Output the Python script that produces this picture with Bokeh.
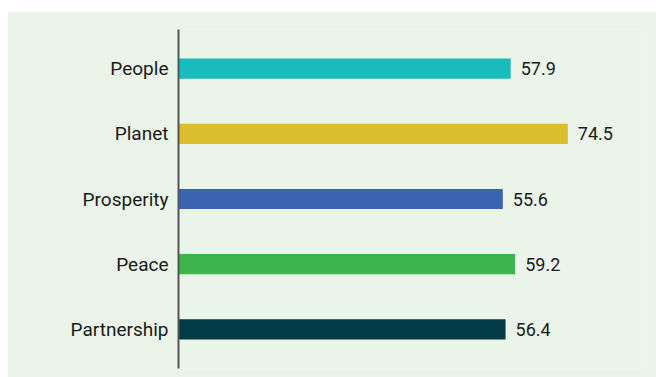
from bokeh.plotting import figure
from bokeh.models import FactorRange, Range1d, ColumnDataSource
from bokeh.core.properties import value
from bokeh.embed import file_html
from bokeh.resources import INLINE

categories = ["People", "Planet", "Prosperity", "Peace", "Partnership"]
scores = [57.9, 74.5, 55.6, 59.2, 56.4]
colors = ["#19bcbb", "#dbbd2d", "#3a64af", "#3db54c", "#023a46"]
labels = [f"{v:.1f}" for v in scores]

X_START = -38.6
X_END = 95.6

src = ColumnDataSource(dict(cat=categories, val=scores, col=colors, lab=labels,
                            left=[X_START] * len(scores)))

BG = "#eaf4e8"
p = figure(width=649, height=366, margin=(11, 0, 0, 7),
           y_range=FactorRange(factors=categories[::-1], range_padding=0.1,
                               range_padding_units="absolute"),
           x_range=Range1d(X_START, X_END),
           output_backend="svg", toolbar_location=None,
           min_border_left=171, min_border_right=16,
           min_border_top=18, min_border_bottom=9)
p.background_fill_color = BG
p.border_fill_color = BG
p.outline_line_color = None
p.xgrid.visible = False
p.ygrid.visible = False
p.xaxis.visible = False

p.hbar(y="cat", left="left", right="val", height=0.31, color="col",
       line_color=None, source=src)
p.text(x="val", y="cat", text="lab", x_offset=10, text_baseline="middle",
       text_align="left", text_font=value("Roboto"), text_font_size="18px",
       text_color="#1a1a1a", source=src)

ya = p.yaxis[0]
ya.axis_line_color = "#555555"
ya.axis_line_width = 2
ya.major_tick_line_color = None
ya.minor_tick_line_color = None
ya.major_tick_out = 0
ya.major_tick_in = 0
ya.major_label_standoff = 10
ya.major_label_text_font = "Roboto"
ya.major_label_text_font_size = "19px"
ya.major_label_text_color = "#1a1a1a"

open("out.html", "w").write(file_html(p, INLINE))
